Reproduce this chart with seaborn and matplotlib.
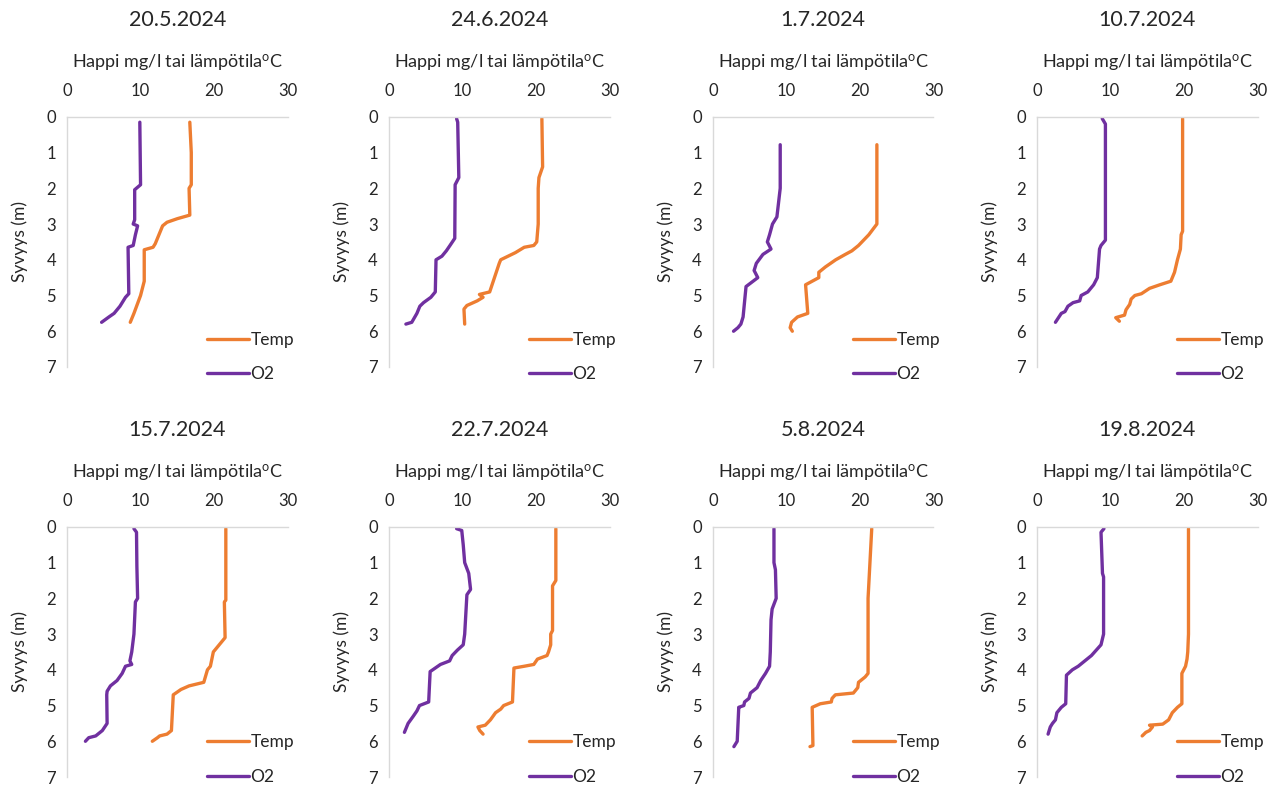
import matplotlib
matplotlib.use("Agg")
import matplotlib.pyplot as plt
import pandas as pd
import seaborn as sns

# Dates of the eight profiles
DATES = ["20.5.2024", "24.6.2024", "1.7.2024", "10.7.2024",
         "15.7.2024", "22.7.2024", "5.8.2024", "19.8.2024"]

# 20.5.2024
TEMP_D_0520 = [0.15, 1.0, 1.9, 2.0, 2.75, 2.85, 2.95, 3.05, 3.3, 3.55, 3.65, 3.72, 4.6, 5.0, 5.5, 5.75]
TEMP_0520 = [16.7, 16.9, 16.9, 16.6, 16.7, 15.0, 13.6, 13.0, 12.5, 12.0, 11.7, 10.5, 10.5, 10.0, 9.1, 8.6]
O2_D_0520 = [0.15, 1.9, 2.04, 2.88, 3.0, 3.05, 3.3, 3.6, 3.65, 4.95, 5.05, 5.3, 5.5, 5.6, 5.75]
O2_0520 = [9.9, 10.0, 9.2, 9.2, 9.0, 9.6, 9.3, 9.0, 8.3, 8.4, 7.95, 7.2, 6.4, 5.7, 4.7]

# 24.6.2024
TEMP_D_0624 = [0.05, 1.4, 1.7, 2.0, 3.0, 3.5, 3.6, 3.65, 3.8, 4.0, 4.1, 4.9, 4.97, 5.05, 5.15, 5.28, 5.38, 5.8]
TEMP_0624 = [20.8, 20.9, 20.4, 20.3, 20.3, 20.1, 19.7, 18.4, 17.2, 15.2, 15.0, 13.7, 12.3, 12.8, 12.0, 10.6, 10.2, 10.3]
O2_D_0624 = [0.05, 0.15, 1.7, 1.9, 3.4, 3.6, 3.75, 3.9, 4.0, 4.9, 5.05, 5.2, 5.3, 5.5, 5.75, 5.8]
O2_0624 = [9.2, 9.35, 9.5, 9.0, 8.95, 8.3, 7.8, 7.2, 6.4, 6.3, 5.7, 4.7, 4.2, 3.8, 3.1, 2.3]

# 1.7.2024
TEMP_D_0701 = [0.78, 3.0, 3.3, 3.6, 3.75, 3.85, 4.0, 4.2, 4.35, 4.5, 4.6, 4.7, 5.5, 5.6, 5.75, 5.9, 6.0]
TEMP_0701 = [22.3, 22.3, 21.2, 19.8, 18.9, 18.0, 16.7, 15.3, 14.4, 14.4, 13.5, 12.6, 12.9, 11.5, 10.7, 10.5, 10.8]
O2_D_0701 = [0.78, 2.0, 2.8, 3.0, 3.3, 3.5, 3.7, 3.85, 4.1, 4.3, 4.5, 4.75, 5.6, 5.8, 5.9, 6.0]
O2_0701 = [9.15, 9.15, 8.7, 8.1, 7.7, 7.4, 7.9, 6.8, 5.9, 5.6, 6.1, 4.5, 4.1, 3.8, 3.4, 2.8]

# 10.7.2024
TEMP_D_0710 = [0.05, 3.2, 3.3, 3.7, 4.0, 4.35, 4.6, 4.7, 4.8, 4.95, 5.0, 5.1, 5.25, 5.4, 5.55, 5.62, 5.72]
TEMP_0710 = [19.8, 19.8, 19.6, 19.5, 19.1, 18.7, 18.2, 16.7, 15.3, 14.2, 13.3, 12.8, 12.6, 12.1, 11.9, 10.7, 11.2]
O2_D_0710 = [0.05, 0.2, 3.45, 3.6, 3.7, 4.5, 4.7, 4.9, 5.0, 5.15, 5.2, 5.3, 5.45, 5.5, 5.75]
O2_0710 = [8.87, 9.3, 9.3, 8.7, 8.5, 8.2, 7.7, 6.9, 6.0, 5.8, 4.9, 4.2, 3.8, 3.3, 2.5]

# 15.7.2024
TEMP_D_0715 = [0.05, 2.05, 2.1, 3.1, 3.3, 3.5, 3.9, 4.0, 4.35, 4.45, 4.55, 4.65, 4.7, 5.7, 5.8, 5.85, 5.9, 6.0]
TEMP_0715 = [21.6, 21.6, 21.4, 21.5, 20.7, 19.9, 19.5, 19.1, 18.6, 16.6, 15.5, 14.8, 14.45, 14.2, 13.6, 12.6, 12.3, 11.6]
O2_D_0715 = [0.05, 0.15, 1.1, 2.0, 2.1, 3.0, 3.5, 3.75, 3.85, 3.9, 4.1, 4.3, 4.45, 4.6, 4.7, 5.5, 5.7, 5.85, 5.9, 6.0]
O2_0715 = [9.1, 9.45, 9.5, 9.6, 9.3, 9.1, 8.8, 8.55, 8.8, 7.95, 7.5, 6.8, 5.9, 5.45, 5.4, 5.45, 4.8, 3.9, 2.95, 2.5]

# 22.7.2024
TEMP_D_0722 = [0.05, 1.5, 1.65, 2.9, 3.0, 3.3, 3.5, 3.6, 3.7, 3.85, 3.9, 3.95, 4.9, 5.0, 5.1, 5.2, 5.4, 5.55, 5.6, 5.7, 5.8]
TEMP_0722 = [22.7, 22.7, 22.25, 22.25, 22.0, 22.0, 21.7, 21.5, 20.2, 19.7, 18.4, 17.0, 16.8, 15.6, 15.2, 14.5, 13.8, 13.1, 12.1, 12.35, 12.8]
O2_D_0722 = [0.05, 0.1, 0.5, 1.0, 1.3, 1.75, 1.9, 3.0, 3.3, 3.45, 3.6, 3.75, 3.85, 3.95, 4.05, 4.9, 5.0, 5.15, 5.3, 5.5, 5.75]
O2_0722 = [9.2, 9.9, 10.1, 10.3, 10.85, 11.1, 10.6, 10.3, 10.1, 9.3, 8.6, 8.25, 7.0, 6.3, 5.6, 5.4, 4.15, 3.8, 3.3, 2.6, 2.1]

# 5.8.2024
TEMP_D_0805 = [0.05, 2.0, 4.1, 4.2, 4.35, 4.5, 4.65, 4.7, 4.8, 4.9, 4.95, 5.05, 6.12, 6.15]
TEMP_0805 = [21.6, 21.1, 21.1, 20.7, 19.8, 19.7, 19.1, 16.65, 16.2, 16.1, 14.6, 13.5, 13.6, 13.2]
O2_D_0805 = [0.05, 1.0, 1.2, 2.0, 2.3, 2.6, 3.5, 3.9, 4.1, 4.3, 4.5, 4.65, 4.8, 4.9, 5.0, 5.05, 5.1, 6.0, 6.15]
O2_0805 = [8.3, 8.3, 8.5, 8.6, 8.05, 7.9, 7.8, 7.7, 7.15, 6.5, 6.0, 5.1, 4.9, 4.3, 4.2, 3.5, 3.5, 3.3, 2.85]

# 19.8.2024
TEMP_D_0819 = [0.05, 3.0, 3.5, 3.7, 3.9, 4.1, 4.95, 5.05, 5.2, 5.4, 5.52, 5.55, 5.6, 5.7, 5.75, 5.85]
TEMP_0819 = [20.6, 20.6, 20.5, 20.4, 20.2, 19.7, 19.7, 19.1, 18.4, 17.9, 17.1, 15.3, 15.7, 15.3, 14.8, 14.3]
O2_D_0819 = [0.05, 0.15, 1.3, 1.4, 3.0, 3.3, 3.45, 3.6, 3.75, 3.9, 4.0, 4.15, 4.95, 5.05, 5.2, 5.4, 5.5, 5.6, 5.8]
O2_0819 = [9.1, 8.7, 8.9, 9.05, 9.05, 8.7, 8.05, 7.4, 6.5, 5.6, 4.8, 4.0, 3.9, 3.3, 2.7, 2.5, 2.1, 1.8, 1.5]

PROFILES = [
    (TEMP_D_0520, TEMP_0520, O2_D_0520, O2_0520),
    (TEMP_D_0624, TEMP_0624, O2_D_0624, O2_0624),
    (TEMP_D_0701, TEMP_0701, O2_D_0701, O2_0701),
    (TEMP_D_0710, TEMP_0710, O2_D_0710, O2_0710),
    (TEMP_D_0715, TEMP_0715, O2_D_0715, O2_0715),
    (TEMP_D_0722, TEMP_0722, O2_D_0722, O2_0722),
    (TEMP_D_0805, TEMP_0805, O2_D_0805, O2_0805),
    (TEMP_D_0819, TEMP_0819, O2_D_0819, O2_0819),
]

COLORS = {"Temp": "#ED7D31", "O2": "#7030A0"}
GRID = "#D9D9D9"
TEXT = "#262626"

sns.set_theme(style="white")
plt.rcParams["font.family"] = ["Lato", "DejaVu Sans"]
plt.rcParams["mathtext.default"] = "regular"

LEFTS = [0.0525, 0.3046, 0.5583, 0.8121]
BOTTOMS = [0.5349, 0.0152]
LEGEND_Y = [0.14, 0.17]
W, H = 0.1727, 0.317


def profile_frame(temp_d, temp, o2_d, o2):
    t = pd.DataFrame({"value": temp, "depth": temp_d, "series": "Temp"})
    o = pd.DataFrame({"value": o2, "depth": o2_d, "series": "O2"})
    return pd.concat([t, o], ignore_index=True)


def draw_panel(ax, title, df, legend_y):
    sns.lineplot(data=df, x="value", y="depth", hue="series",
                 hue_order=["Temp", "O2"], palette=COLORS,
                 sort=False, estimator=None, linewidth=2.4, ax=ax)
    ax.set_xlim(0, 30)
    ax.set_ylim(7, 0)
    ax.set_xticks([0, 10, 20, 30])
    ax.set_yticks(range(8))
    ax.xaxis.tick_top()
    ax.xaxis.set_label_position("top")
    ax.tick_params(length=0, labelsize=12, colors=TEXT)
    ax.tick_params(axis="x", pad=13)
    ax.tick_params(axis="y", pad=8)
    for side in ["right", "bottom"]:
        ax.spines[side].set_visible(False)
    for side in ["top", "left"]:
        ax.spines[side].set_color(GRID)
        ax.spines[side].set_linewidth(1.0)
    ax.set_xlabel("Happi mg/l tai lämpötila$^{o}$C", fontsize=13,
                  color=TEXT, labelpad=11)
    ax.set_ylabel("Syvyys (m)", fontsize=12.5, color=TEXT, labelpad=13)
    ax.set_title(title, fontsize=15.5, color=TEXT, pad=19)
    sns.move_legend(ax, "upper left", bbox_to_anchor=(0.635, legend_y),
                    frameon=False, title=None, fontsize=12.5,
                    handlelength=2.4, handletextpad=0.1, labelspacing=1.05,
                    borderaxespad=0, borderpad=0)


fig = plt.figure(figsize=(12.77, 7.89), dpi=100)
for i, (date, prof) in enumerate(zip(DATES, PROFILES)):
    ax = fig.add_axes([LEFTS[i % 4], BOTTOMS[i // 4], W, H])
    draw_panel(ax, date, profile_frame(*prof), LEGEND_Y[i // 4])

fig.savefig("out.png", dpi=100, facecolor="white")
